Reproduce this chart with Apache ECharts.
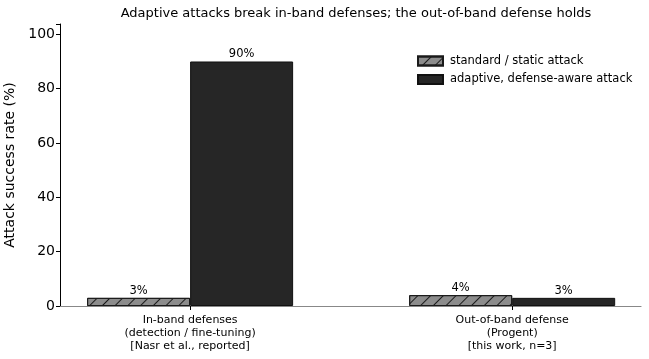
<!DOCTYPE html>
<html>
<head>
<meta charset="utf-8">
<script src="https://cdn.jsdelivr.net/npm/echarts@6/dist/echarts.min.js"></script>
<style>html,body{margin:0;padding:0;background:#fff}#c{width:649px;height:359px}</style>
</head>
<body>
<div id="c"></div>
<script>
const categories = ['In-band defenses\n(detection / fine-tuning)\n[Nasr et al., reported]', 'Out-of-band defense\n(Progent)\n[this work, n=3]'];
const seriesNames = ['standard / static attack', 'adaptive, defense-aware attack'];
const standardValues = [3, 4];
const adaptiveValues = [90, 3];
const yTicks = [0, 20, 40, 60, 80, 100];
const titleText = 'Adaptive attacks break in-band defenses; the out-of-band defense holds';
const yAxisName = 'Attack success rate (%)';

const FONT = 'DejaVu Sans';
const chart = echarts.init(document.getElementById('c'), null, {renderer: 'canvas'});
const toPairs = arr => arr.map((v, i) => [i, v]);
const labelCfg = {
  show: true, position: 'top', distance: 1, color: '#000', fontSize: 11.5, fontFamily: FONT,
  formatter: p => p.value[1] + '%'
};
chart.setOption({
  animation: false,
  backgroundColor: '#fff',
  title: {
    text: titleText, left: 351, top: 2, textAlign: 'center',
    textStyle: {fontSize: 13, fontWeight: 'normal', color: '#000', fontFamily: FONT}
  },
  legend: {
    orient: 'vertical', left: 417, top: 55, padding: 0, itemWidth: 25, itemHeight: 9, itemGap: 6.5,
    icon: 'rect',
    textStyle: {fontSize: 11.5, color: '#000', fontFamily: FONT, padding: [0, 0, 0, 2]},
    data: seriesNames
  },
  grid: {left: 60, right: 8, top: 24, bottom: 53, containLabel: false, outerBoundsMode: 'none'},
  xAxis: {
    type: 'value', min: -0.404, max: 1.4,
    axisLine: {show: true, onZero: false, lineStyle: {color: '#888', width: 1.2}},
    axisTick: {show: true, customValues: [0, 1], length: 4, lineStyle: {color: '#000'}},
    axisLabel: {
      customValues: [0, 1], formatter: v => categories[Math.round(v)],
      fontSize: 11, lineHeight: 13, color: '#000', fontFamily: FONT, margin: 8
    },
    splitLine: {show: false}
  },
  yAxis: {
    type: 'value', min: 0, max: 103.8, interval: 20,
    name: yAxisName, nameLocation: 'middle', nameGap: 35,
    nameTextStyle: {fontSize: 14, color: '#000', fontFamily: FONT},
    axisLine: {show: true, onZero: false, lineStyle: {color: '#000', width: 1}},
    axisTick: {show: true, length: 4, lineStyle: {color: '#000'}},
    axisLabel: {fontSize: 14, color: '#000', fontFamily: FONT, margin: 5,
      formatter: v => (yTicks.indexOf(v) >= 0 ? String(v) : '')},
    splitLine: {show: false}
  },
  series: [
    {
      name: seriesNames[0], type: 'bar', data: toPairs(standardValues),
      barWidth: 103, barGap: '0%',
      itemStyle: {
        color: '#8c8c8c', borderColor: '#1a1a1a', borderWidth: 1,
        decal: {symbol: 'rect', symbolSize: 1, color: '#1a1a1a',
          dashArrayX: [[1, 0]], dashArrayY: [1, 8], rotation: -Math.PI / 4}
      },
      label: labelCfg
    },
    {
      name: seriesNames[1], type: 'bar', data: toPairs(adaptiveValues),
      barWidth: 103, barGap: '0%',
      itemStyle: {color: '#262626', borderColor: '#111', borderWidth: 1},
      label: labelCfg
    }
  ]
});
</script>
</body>
</html>
